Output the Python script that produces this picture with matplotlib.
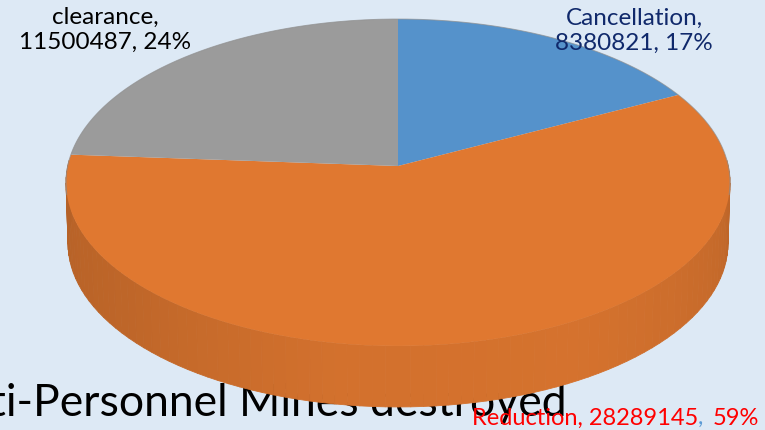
import numpy as np
import matplotlib
matplotlib.use("Agg")
import matplotlib.pyplot as plt
from matplotlib.collections import PolyCollection
from matplotlib.colors import to_rgb

# clockwise from twelve o'clock
names = ["Cancellation", "Reduction", "clearance"]
values = [8380821, 28289145, 11500487]
percents = [17, 59, 24]
colors = ["#5592cb", "#e07830", "#9b9b9b"]
text_colors = ["#10296b", "#ff0000", "#000000"]

title = "Anti-Personnel Mines destroyed"
bg = "#dde9f5"

# perspective disc
cx, cy = 398.0, 167.0
rx, ry = 330.3, 161.8
tilt = 0.1009
thickness = 61.0


def project(theta, drop=0.0, shrink=1.0):
    u = np.sin(theta)
    v = np.cos(theta)
    w = 1 + tilt * v
    return cx + shrink * rx * u / w, cy - ry * v / w + drop


def side_color(theta):
    # rim is darkest at the left and lightens towards the front right
    stops = np.radians([90, 110, 150, 190, 230, 270])
    dark = np.interp(theta, stops, [0.82, 0.88, 0.95, 0.94, 0.85, 0.81])
    base = np.array(to_rgb(colors[1]))
    return tuple(base * dark)


fig = plt.figure(figsize=(7.65, 4.31), dpi=100, facecolor=bg)
ax = fig.add_axes([0, 0, 1, 1])
ax.set_xlim(0, 765)
ax.set_ylim(431, 0)
ax.axis("off")

ax.text(567, 416, title, fontsize=32, family="Lato", ha="right", va="baseline",
        color="black", zorder=1)

# rim under the front of the disc
edges = np.radians(np.arange(88, 273, 2.0))
quads = []
quad_colors = []
for a, b in zip(edges[:-1], edges[1:]):
    x0, y0 = project(a)
    x1, y1 = project(b)
    x2, y2 = project(b, thickness, 0.994)
    x3, y3 = project(a, thickness, 0.994)
    quads.append([(x0, y0), (x1, y1), (x2, y2), (x3, y3)])
    quad_colors.append(side_color((a + b) / 2))
ax.add_collection(PolyCollection(quads, facecolors=quad_colors,
                                 edgecolors=quad_colors, linewidths=0.6, zorder=2))

# slices on the top face
total = sum(values)
start = 0.0
for val, col in zip(values, colors):
    sweep = 2 * np.pi * val / total
    th = np.linspace(start, start + sweep, 200)
    xs, ys = project(th)
    ax.fill(np.r_[cx, xs], np.r_[cy, ys], color=col, lw=0, zorder=3)
    start += sweep

# thin outline only along the back edge
th = np.radians(np.linspace(-100, 100, 300))
xs, ys = project(th)
ax.plot(xs, ys, color="#8f8f8f", lw=0.7, alpha=0.7, zorder=4)

# data labels
font = "Lato"
ax.text(105, 30, f"{names[2]},\n{values[2]}, {percents[2]}%", fontsize=17.5, family=font,
        color=text_colors[2], ha="center", va="center", linespacing=1.2, zorder=5)
ax.text(634, 31, f"{names[0]},\n{values[0]}, {percents[0]}%", fontsize=17.5, family=font,
        color=text_colors[0], ha="center", va="center", linespacing=1.2, zorder=5)

# last label has a blue separator, so it is laid out piece by piece
fig.canvas.draw()
renderer = fig.canvas.get_renderer()
x = 472.0
for piece, col in [(f"{names[1]}, {values[1]}", text_colors[1]), (",", "#5b9bd5"),
                   (f"{percents[1]}%", text_colors[1])]:
    t = ax.text(x, 425, piece, fontsize=17, family=font, color=col, ha="left",
                va="baseline", zorder=5)
    x += t.get_window_extent(renderer).width + (9 if piece == "," else 0)

fig.savefig("out.png", dpi=100, facecolor=bg)
